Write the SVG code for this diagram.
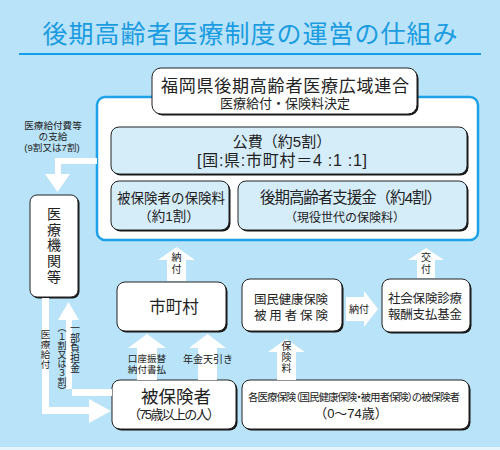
<svg xmlns="http://www.w3.org/2000/svg" width="500" height="450" viewBox="0 0 500 450">
<defs>
<style>
text{font-family:"Liberation Sans","Noto Sans CJK JP","Noto Sans CJK SC",sans-serif;fill:#222;}
.t{text-anchor:middle;}
.v{writing-mode:vertical-rl;text-anchor:middle;font-family:"Noto Sans CJK JP",sans-serif;}
.sh{fill:#151515;}
.bx{fill:#fff;stroke:#222;stroke-width:1;}
.lb{fill:#d5ecf9;stroke:#222;stroke-width:1;}
.ar{fill:#fff;stroke:none;}
.s10{font-size:10px;}
.pa{font-feature-settings:"palt";}
</style>
</defs>
<rect x="0" y="0" width="500" height="447" fill="#b9e3f8"/>
<rect x="0" y="447" width="500" height="3" fill="#e6f4fc"/>
<g id="title">
<text class="t" x="250" y="43" font-size="25" style="fill:#1b9be0" textLength="415">後期高齢者医療制度の運営の仕組み</text>
<line x1="19" y1="54" x2="481" y2="54" stroke="#11a0e8" stroke-width="2"/>
</g>
<g id="container">
<rect x="97" y="97" width="381" height="143" rx="8" fill="#fff" stroke="#1da1e8" stroke-width="2.5"/>
</g>
<g id="kouiki">
<rect class="sh" x="153.5" y="69.5" width="265" height="46" rx="9"/>
<rect class="bx" x="152" y="68" width="265" height="46" rx="9"/>
<text class="t"><tspan x="285" y="92" font-size="17" textLength="248">福岡県後期高齢者医療広域連合</tspan><tspan x="285" y="108" font-size="13">医療給付・保険料決定</tspan></text>
</g>
<g id="kouhi">
<rect class="sh" x="112.5" y="128.5" width="356" height="47" rx="8"/>
<rect class="lb" x="111" y="127" width="356" height="47" rx="8"/>
<text class="t"><tspan x="282" y="147" font-size="15">公費（約5割）</tspan><tspan x="282" y="166" font-size="16" textLength="170">[国:県:市町村＝4 :1 :1]</tspan></text>
</g>
<g id="hokenryo">
<rect class="sh" x="112.5" y="182.5" width="118" height="49" rx="8"/>
<rect class="lb" x="111" y="181" width="118" height="49" rx="8"/>
<text class="t" font-size="13.5"><tspan x="171" y="203">被保険者の保険料</tspan><tspan x="169" y="221">（約1割）</tspan></text>
</g>
<g id="shienkin">
<rect class="sh" x="239.5" y="182.5" width="229" height="49" rx="8"/>
<rect class="lb" x="238" y="181" width="229" height="49" rx="8"/>
<text class="t"><tspan x="351" y="203" font-size="15.5" textLength="182">後期高齢者支援金（約4割）</tspan><tspan x="345" y="222" font-size="12">（現役世代の保険料）</tspan></text>
</g>
<g id="iryokikan">
<rect class="sh" x="31.5" y="196.5" width="48" height="102" rx="7"/>
<rect class="bx" x="30" y="195" width="48" height="102" rx="7"/>
<text class="v" x="54" y="246" font-size="14" letter-spacing="1.7">医療機関等</text>
</g>
<g id="shichoson">
<rect class="sh" x="118.5" y="283.5" width="109" height="49" rx="8"/>
<rect class="bx" x="117" y="282" width="109" height="49" rx="8"/>
<text class="t" x="174" y="313" font-size="16.5">市町村</text>
</g>
<g id="kokuho">
<rect class="sh" x="243.5" y="280.5" width="100" height="52" rx="8"/>
<rect class="bx" x="242" y="279" width="100" height="52" rx="8"/>
<text class="t" font-size="12.5"><tspan x="291" y="304" textLength="74">国民健康保険</tspan><tspan x="291" y="320" textLength="74">被用者保険</tspan></text>
</g>
<g id="shiharai">
<rect class="sh" x="383.5" y="280.5" width="88" height="53" rx="8"/>
<rect class="bx" x="382" y="279" width="88" height="53" rx="8"/>
<text class="t" font-size="12.5"><tspan x="425" y="303" textLength="74">社会保険診療</tspan><tspan x="425" y="319" textLength="74">報酬支払基金</tspan></text>
</g>
<g id="hihokensha">
<rect class="sh" x="113.5" y="381.5" width="124" height="49" rx="8"/>
<rect class="bx" x="112" y="380" width="124" height="49" rx="8"/>
<text class="t"><tspan x="176" y="403" font-size="17.5">被保険者</tspan><tspan x="174" y="419" font-size="13" textLength="92">（75歳以上の人）</tspan></text>
</g>
<g id="kakuiryo">
<rect class="sh" x="243.5" y="381.5" width="227" height="49" rx="8"/>
<rect class="bx" x="242" y="380" width="227" height="49" rx="8"/>
<text class="t"><tspan class="pa" x="354" y="401" font-size="10.5" textLength="212">各医療保険（国民健康保険・被用者保険）の被保険者</tspan><tspan x="351" y="418" font-size="13">（0〜74歳）</tspan></text>
</g>
<g id="connectors">
<path class="ar" d="M97,158 H55 V174 H45 L57.5,192 L70,174 H61 V164 H97 Z"/>
<text class="t" font-size="9.6"><tspan x="53" y="129">医療給付費等</tspan><tspan x="53" y="140">の支給</tspan><tspan x="52" y="151">(9割又は7割)</tspan></text>
<path class="ar" d="M167,281 V260 H158 L176.5,247 L195,260 H186 V281 Z"/>
<text class="v s10" x="176.5" y="264" letter-spacing="2">納付</text>
<path class="ar" d="M417,278 V260 H408 L426,248 L444,260 H435 V278 Z"/>
<text class="v s10" x="426" y="264" letter-spacing="2">交付</text>
<path class="ar" d="M346,297 H364 V291 L378,309 L364,327 V321 H346 Z"/>
<text class="t s10" x="359" y="313">納付</text>
<path class="ar" d="M137,380 V348 H128 L147,334 L166,348 H157 V380 Z"/>
<text class="t" font-size="9.6"><tspan x="147" y="362">口座振替</tspan><tspan x="147" y="373">納付書払</tspan></text>
<path class="ar" d="M198,380 V348 H189 L207.5,334 L226,348 H217 V380 Z"/>
<text class="t s10" x="208" y="363">年金天引き</text>
<path class="ar" d="M277,380 V352 H268 L286.5,339 L305,352 H296 V380 Z"/>
<text class="v s10" x="286.5" y="358" letter-spacing="1">保険料</text>
<path class="ar" d="M42,298 H49 V407 H89 V399 L111,411 L89,423 V414 H42 Z"/>
<text class="v" font-size="9.5" x="45.5" y="350" letter-spacing="0.5">医療給付</text>
<path class="ar" d="M112,389 H66 V320 H58 L68.5,302 L79,320 H72 V396 H112 Z"/>
<text class="v s10" x="75" y="348">一部負担金</text>
<text class="v" font-size="9" x="62" y="359">（１割又は３割）</text>
</g>
</svg>
